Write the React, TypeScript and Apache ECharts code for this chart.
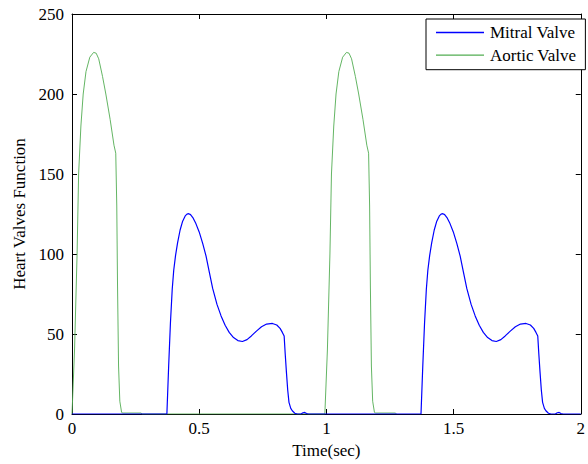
import React, { useEffect, useRef } from "react";
import * as echarts from "echarts";

const seriesNames = ["Mitral Valve", "Aortic Valve"];

const mitralTime = [
  0, 0.373, 0.38, 0.387, 0.394, 0.4, 0.407, 0.415, 0.425, 0.435, 0.445, 0.452, 0.459, 0.466, 0.475, 0.487, 0.5, 0.514, 0.527, 0.54, 0.553, 0.57, 0.586, 0.602, 0.618, 0.635, 0.652, 0.67, 0.688, 0.705, 0.725, 0.745, 0.765, 0.788, 0.805, 0.818, 0.827, 0.834, 0.838, 0.843, 0.848, 0.853, 0.86, 0.866, 0.876, 0.886, 0.9, 0.908, 0.915, 0.922, 0.93,
  1.372, 1.379, 1.386, 1.393, 1.399, 1.406, 1.414, 1.424, 1.434, 1.444, 1.451, 1.458, 1.465, 1.474, 1.486, 1.499, 1.513, 1.526, 1.539, 1.552, 1.569, 1.585, 1.601, 1.617, 1.634, 1.651, 1.668, 1.686, 1.703, 1.723, 1.743, 1.763, 1.785, 1.802, 1.815, 1.824, 1.831, 1.835, 1.84, 1.845, 1.85, 1.857, 1.863, 1.873, 1.883, 1.9, 1.908, 1.915, 1.922, 1.93, 2.0,
];
const mitralValue = [
  0, 0, 30, 57, 78, 90, 99, 107, 115, 120.5, 123.8, 124.9, 125.2, 124.6, 122.8, 119, 113.8, 106.5, 98.7, 88.5, 78.5, 68.5, 61.3, 55.5, 51, 47.8, 45.9, 45.3, 46.5, 48.8, 51.8, 54.5, 56.2, 56.6, 55.6, 53.5, 51, 48.8, 38, 26, 15, 7.3, 3.5, 2, 0.5, 0, 0, 0.8, 1, 0.3, 0,
  0, 30, 57, 78, 90, 99, 107, 115, 120.5, 123.8, 124.9, 125.2, 124.6, 122.8, 119, 113.8, 106.5, 98.7, 88.5, 78.5, 68.5, 61.3, 55.5, 51, 47.8, 45.9, 45.3, 46.5, 48.8, 51.8, 54.5, 56.2, 56.6, 55.6, 53.5, 51, 48.8, 38, 26, 15, 7.3, 3.5, 2, 0.5, 0, 0, 0.8, 1, 0.3, 0, 0,
];

const aorticTime = [
  0, 0.01, 0.02, 0.026, 0.035, 0.044, 0.055, 0.07, 0.085, 0.095, 0.105, 0.12, 0.133, 0.15, 0.165, 0.172, 0.176, 0.179, 0.183, 0.188, 0.195, 0.2, 0.272, 0.275,
  0.994, 1.004, 1.014, 1.02, 1.029, 1.038, 1.049, 1.064, 1.079, 1.089, 1.099, 1.114, 1.127, 1.144, 1.159, 1.166, 1.17, 1.173, 1.177, 1.182, 1.189, 1.194, 1.272, 1.275,
];
const aorticValue = [
  0, 40, 100, 150, 180, 200, 214, 223, 226, 225.5, 222, 211, 200, 184, 168, 163, 130, 80, 30, 8, 1, 0.6, 0.6, 0,
  0, 40, 100, 150, 180, 200, 214, 223, 226, 225.5, 222, 211, 200, 184, 168, 163, 130, 80, 30, 8, 1, 0.6, 0.6, 0,
];

const xTicks = [0, 0.5, 1, 1.5, 2];
const yTicks = [0, 50, 100, 150, 200, 250];

const FONT = "'Liberation Serif', 'Times New Roman', serif";

export default function App() {
  const ref = useRef<HTMLDivElement>(null);
  useEffect(() => {
    if (!ref.current) return;
    const chart = echarts.init(ref.current, null, { renderer: "svg" });
    const mitral = mitralTime.map((t, i) => [t, mitralValue[i]]);
    const aortic = aorticTime.map((t, i) => [t, aorticValue[i]]);
    const tickCommon = { inside: true, length: 5, lineStyle: { color: "#000", width: 1 } };
    chart.setOption({
      animation: false,
      backgroundColor: "#fff",
      grid: { left: 72, top: 14, right: 5, bottom: 49, containLabel: false },
      legend: {
        orient: "vertical",
        left: 426,
        top: 19,
        icon: "rect",
        itemWidth: 48,
        itemHeight: 1.3,
        itemGap: 3.7,
        padding: [4, 9, 5, 10],
        borderColor: "#000",
        borderWidth: 1,
        backgroundColor: "#fff",
        textStyle: { fontFamily: FONT, fontSize: 17, color: "#000", lineHeight: 19, padding: [0, 0, 0, 1] },
        data: seriesNames,
      },
      xAxis: [
        {
          type: "value",
          min: 0,
          max: 2,
          interval: 0.5,
          name: "Time(sec)",
          nameLocation: "middle",
          nameGap: 28,
          nameTextStyle: { fontFamily: FONT, fontSize: 17, color: "#000" },
          axisLine: { show: true, onZero: false, lineStyle: { color: "#000", width: 1 } },
          axisTick: tickCommon,
          axisLabel: {
            fontFamily: FONT,
            fontSize: 17,
            color: "#000",
            margin: 6,
            formatter: (v: number) => (xTicks.includes(v) ? String(v) : ""),
          },
          splitLine: { show: false },
        },
        {
          type: "value",
          position: "top",
          min: 0,
          max: 2,
          interval: 0.5,
          axisLine: { show: true, onZero: false, lineStyle: { color: "#000", width: 1 } },
          axisTick: tickCommon,
          axisLabel: { show: false },
          splitLine: { show: false },
        },
      ],
      yAxis: [
        {
          type: "value",
          min: 0,
          max: 250,
          interval: 50,
          name: "Heart Valves Function",
          nameLocation: "middle",
          nameGap: 42,
          nameTextStyle: { fontFamily: FONT, fontSize: 17, color: "#000" },
          axisLine: { show: true, onZero: false, lineStyle: { color: "#000", width: 1 } },
          axisTick: tickCommon,
          axisLabel: {
            fontFamily: FONT,
            fontSize: 17,
            color: "#000",
            margin: 8,
            formatter: (v: number) => (yTicks.includes(v) ? String(v) : ""),
          },
          splitLine: { show: false },
        },
        {
          type: "value",
          position: "right",
          min: 0,
          max: 250,
          interval: 50,
          axisLine: { show: true, onZero: false, lineStyle: { color: "#000", width: 1 } },
          axisTick: tickCommon,
          axisLabel: { show: false },
          splitLine: { show: false },
        },
      ],
      series: [
        {
          name: seriesNames[1],
          type: "line",
          data: aortic,
          showSymbol: false,
          symbol: "none",
          lineStyle: { color: "#52ad52", width: 0.9 },
          itemStyle: { color: "#52ad52" },
          z: 2,
        },
        {
          name: seriesNames[0],
          type: "line",
          data: mitral,
          showSymbol: false,
          symbol: "none",
          lineStyle: { color: "#0000ff", width: 1.2 },
          itemStyle: { color: "#0000ff" },
          z: 3,
        },
      ],
    });
    return () => chart.dispose();
  }, []);
  return <div ref={ref} style={{ width: 588, height: 464, position: "absolute", left: 0, top: 0 }} />;
}
